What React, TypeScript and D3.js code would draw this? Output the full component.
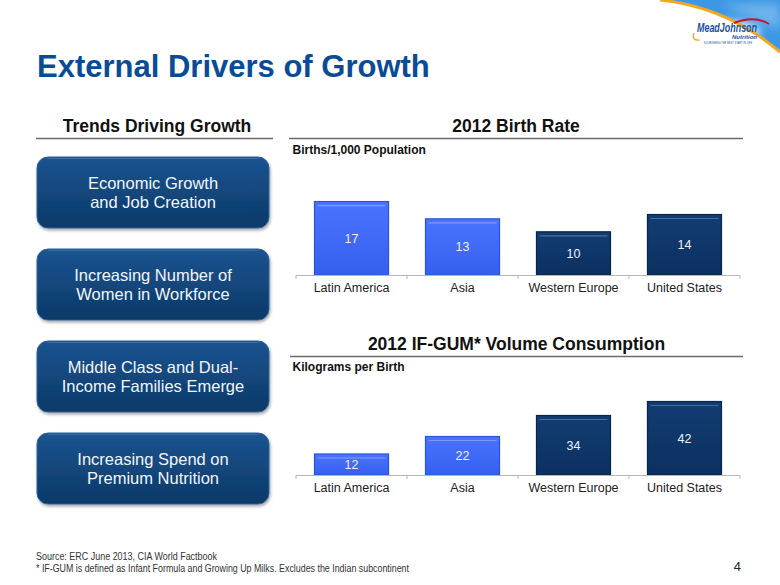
import React from "react";
import * as d3 from "d3";

const categories = ["Latin America", "Asia", "Western Europe", "United States"];
const birthRate = [17, 13, 10, 14];
const volume = [12, 22, 34, 42];
const highlight = [true, true, false, false];
const drivers = [
  ["Economic Growth", "and Job Creation"],
  ["Increasing Number of", "Women in Workforce"],
  ["Middle Class and Dual-", "Income Families Emerge"],
  ["Increasing Spend on", "Premium Nutrition"],
];
const footnotes = [
  "Source:  ERC June 2013, CIA World Factbook",
  "* IF-GUM is defined as Infant Formula and Growing Up Milks. Excludes the Indian subcontinent",
];
const footWidths = [181, 373];

const FONT = "Arial, 'Liberation Sans', Helvetica, sans-serif";
const SKY = "M660,0 C700,4 740,18 780,52 L780,0 Z";
const ARC = "M660,0 C700,4 740,18 780,52";

function BarChart({ values, baseY, yMax, pxRange }: { values: number[]; baseY: number; yMax: number; pxRange: number }) {
  const x = d3.scaleBand<string>().domain(categories).range([296, 740]).paddingInner(0.333).paddingOuter(0.1667);
  const y = d3.scaleLinear().domain([0, yMax]).range([baseY, baseY - pxRange]);
  const step = x.step();
  const ticks = d3.range(categories.length + 1).map((i) => 296 + i * step);
  return (
    <g>
      {values.map((v, i) => {
        const bx = x(categories[i])!;
        const bw = x.bandwidth();
        const top = y(v);
        const h = baseY - top;
        const light = highlight[i];
        return (
          <g key={i}>
            <rect x={bx} y={top} width={bw} height={h} fill={light ? "url(#gLight)" : "url(#gDark)"} stroke={light ? "#2b55d6" : "#08254a"} strokeWidth={1.2} />
            <line x1={bx + 3} x2={bx + bw - 3} y1={top + 4} y2={top + 4} stroke={light ? "#7c9bff" : "#4a6e9c"} strokeWidth={1.2} />
            <text x={bx + bw / 2} y={top + h / 2 + 4.5} textAnchor="middle" fontFamily={FONT} fontSize={12.5} fill="#eef2f8">
              {v}
            </text>
            <text x={bx + bw / 2} y={baseY + 17} textAnchor="middle" fontFamily={FONT} fontSize={12.5} fill="#222">
              {categories[i]}
            </text>
          </g>
        );
      })}
      <line x1={296} x2={740} y1={baseY + 0.5} y2={baseY + 0.5} stroke="#b8b8b8" strokeWidth={1.2} />
      {ticks.map((t, i) => (
        <line key={i} x1={t} x2={t} y1={baseY} y2={baseY + 4} stroke="#b8b8b8" strokeWidth={1} />
      ))}
    </g>
  );
}

export default function App() {
  const boxTops = [157, 249, 341, 433];
  return (
    <svg width={780} height={585} style={{ position: "absolute", left: 0, top: 0, background: "#fff" }}>
      <defs>
        <linearGradient id="gLight" x1="0" y1="0" x2="0" y2="1">
          <stop offset="0" stopColor="#4a74ff" />
          <stop offset="1" stopColor="#3560ee" />
        </linearGradient>
        <linearGradient id="gDark" x1="0" y1="0" x2="0" y2="1">
          <stop offset="0" stopColor="#123d72" />
          <stop offset="1" stopColor="#0c3060" />
        </linearGradient>
        <linearGradient id="gBox" x1="0" y1="0" x2="0" y2="1">
          <stop offset="0" stopColor="#1b5490" />
          <stop offset="1" stopColor="#0b3968" />
        </linearGradient>
        <filter id="shadow" x="-10%" y="-10%" width="120%" height="130%">
          <feDropShadow dx="1" dy="2" stdDeviation="1.5" floodColor="#000" floodOpacity="0.35" />
        </filter>
        <filter id="blur3" x="-50%" y="-50%" width="200%" height="200%">
          <feGaussianBlur stdDeviation="5" />
        </filter>
      </defs>

      {/* Logo area */}
      <path d={SKY} fill="#3c97e4" />
      <path d="M720,4 L780,4 L780,30 Z" fill="#9fd0f4" opacity={0.5} filter="url(#blur3)" />
      <ellipse cx={728} cy={32} rx={32} ry={10} fill="#ffffff" filter="url(#blur3)" />
      <path d={ARC} fill="none" stroke="#f4a623" strokeWidth={3} />
      <path d="M734,23 Q754,15 769,24" fill="none" stroke="#c8102e" strokeWidth={2} />
      <text x={697} y={32} fontFamily={FONT} fontStyle="italic" fontWeight="bold" fontSize={12} fill="#1b4f9e" textLength={60} lengthAdjust="spacingAndGlyphs">
        MeadJohnson
      </text>
      <text x={757} y={39} textAnchor="end" fontFamily={FONT} fontWeight="bold" fontStyle="italic" fontSize={6} fill="#1b4f9e">
        Nutrition
      </text>
      <text x={728} y={44} textAnchor="middle" fontFamily={FONT} fontSize={2.6} fill="#1b4f9e">
        NOURISHING THE BEST START IN LIFE
      </text>
      <path d="M694,33 Q691,41 700,40" fill="none" stroke="#f4a623" strokeWidth={1.2} />

      {/* Title */}
      <text x={37} y={77} fontFamily={FONT} fontWeight="bold" fontSize={31} fill="#0a4b96">
        External Drivers of Growth
      </text>

      {/* Section headers */}
      <text x={157} y={132} textAnchor="middle" fontFamily={FONT} fontWeight="bold" fontSize={17.5} fill="#111">
        Trends Driving Growth
      </text>
      <text x={516} y={132} textAnchor="middle" fontFamily={FONT} fontWeight="bold" fontSize={17.5} fill="#111">
        2012 Birth Rate
      </text>
      <line x1={36} x2={273} y1={138.5} y2={138.5} stroke="#6b6b6b" strokeWidth={1.5} />
      <line x1={289} x2={743} y1={138.5} y2={138.5} stroke="#6b6b6b" strokeWidth={1.5} />
      <text x={292.5} y={153.5} fontFamily={FONT} fontWeight="bold" fontSize={12} fill="#111">
        Births/1,000 Population
      </text>

      <text x={516.5} y={350} textAnchor="middle" fontFamily={FONT} fontWeight="bold" fontSize={17.5} fill="#111">
        2012 IF-GUM* Volume Consumption
      </text>
      <line x1={290} x2={743} y1={356.5} y2={356.5} stroke="#6b6b6b" strokeWidth={1.5} />
      <text x={292.5} y={371} fontFamily={FONT} fontWeight="bold" fontSize={12} fill="#111">
        Kilograms per Birth
      </text>

      {/* Driver boxes */}
      {drivers.map((lines, i) => {
        const top = boxTops[i];
        return (
          <g key={i}>
            <rect x={37} y={top} width={232} height={71} rx={11} ry={11} fill="url(#gBox)" stroke="#2f639b" strokeWidth={1} filter="url(#shadow)" />
            <path d={`M${48},${top + 1.5} L${258},${top + 1.5}`} stroke="#4d7eb3" strokeWidth={1} opacity={0.6} />
            {lines.map((l, j) => (
              <text key={j} x={153} y={top + 32 + j * 19} textAnchor="middle" fontFamily={FONT} fontSize={16.5} fill="#f2f5fa">
                {l}
              </text>
            ))}
          </g>
        );
      })}

      {/* Charts */}
      <BarChart values={birthRate} baseY={275} yMax={20} pxRange={86.4} />
      <BarChart values={volume} baseY={475} yMax={50} pxRange={87.5} />

      {/* Footer */}
      {footnotes.map((f, i) => (
        <text key={i} x={36} y={560 + i * 11.5} fontFamily={FONT} fontSize={10} fill="#333" textLength={footWidths[i]} lengthAdjust="spacingAndGlyphs">
          {f}
        </text>
      ))}
      <text x={741} y={571} textAnchor="end" fontFamily={FONT} fontSize={13} fill="#222">
        4
      </text>
    </svg>
  );
}
